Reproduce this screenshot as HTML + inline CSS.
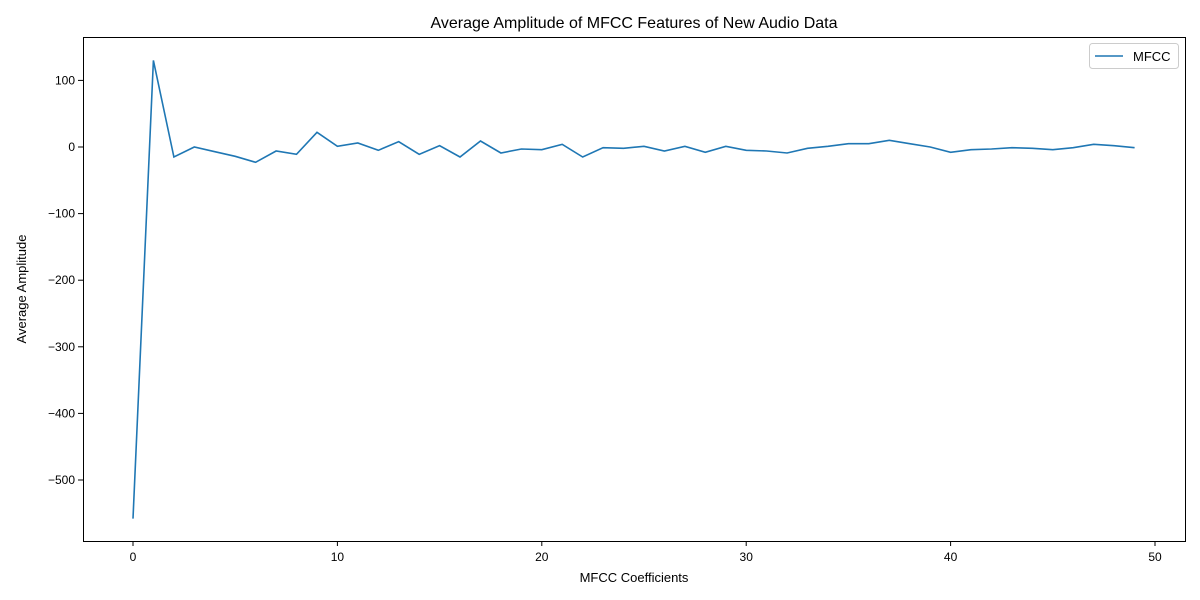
<!DOCTYPE html>
<html><head><meta charset="utf-8"><style>
html,body{margin:0;padding:0;background:#fff;}
svg{display:block;font-family:"Liberation Sans","DejaVu Sans",sans-serif;}
</style></head><body>
<svg id="chart" width="1200" height="600">
<rect x="0" y="0" width="1200" height="600" fill="#fff"/>
<text x="634" y="28" font-size="16" text-anchor="middle">Average Amplitude of MFCC Features of New Audio Data</text>
<text x="634" y="582" font-size="13" text-anchor="middle">MFCC Coefficients</text>
<text x="26" y="289" font-size="13" text-anchor="middle" transform="rotate(-90 26 289)">Average Amplitude</text>
<g id="ticks"></g>
<path id="line" fill="none" stroke="#1f77b4" stroke-width="1.6"/>
<rect x="83.5" y="37.5" width="1102" height="504" fill="none" stroke="#000" stroke-width="1"/>
<g>
<rect x="1089.5" y="43.5" width="89" height="25" rx="3" fill="#fff" stroke="#ccc"/>
<line x1="1095" y1="56" x2="1123" y2="56" stroke="#1f77b4" stroke-width="1.6"/>
<text x="1133" y="61" font-size="13">MFCC</text>
</g>
</svg>
<script>
const categories = Array.from({length:50},(_, i)=>i);
const values = [-558,130,-15,0,-7,-14,-23,-6,-11,22,1,6,-5,8,-11,2,-15,9,-9,-3,-4,4,-15,-1,-2,1,-6,1,-8,1,-5,-6,-9,-2,1,5,5,10,5,0,-8,-4,-3,-1,-2,-4,-1,4,2,-1];
const xTicks = [0,10,20,30,40,50];
const yTicks = [100,0,-100,-200,-300,-400,-500];
function xs(v){return 133+v*20.44;}
function ys(v){return 147-v*0.666;}
const ns="http://www.w3.org/2000/svg";
const g=document.getElementById('ticks');
xTicks.forEach(t=>{
  const l=document.createElementNS(ns,'line');
  l.setAttribute('x1',xs(t));l.setAttribute('x2',xs(t));l.setAttribute('y1',541);l.setAttribute('y2',546);l.setAttribute('stroke','#000');
  
  
  g.appendChild(l);
  const tx=document.createElementNS(ns,'text');
  tx.setAttribute('x',xs(t));tx.setAttribute('y',561);tx.setAttribute('font-size','12');tx.setAttribute('text-anchor','middle');
  tx.textContent=t;
  
  
  g.appendChild(tx);
});
yTicks.forEach(t=>{
  const l=document.createElementNS(ns,'line');
  l.setAttribute('x1',78);l.setAttribute('x2',83);l.setAttribute('y1',ys(t));l.setAttribute('y2',ys(t));l.setAttribute('stroke','#000');
  
  
  g.appendChild(l);
  const tx=document.createElementNS(ns,'text');
  tx.setAttribute('x',75);tx.setAttribute('y',ys(t)+4);tx.setAttribute('font-size','12');tx.setAttribute('text-anchor','end');
  tx.textContent=t<0?'\u2212'+(-t):t;
  
  
  g.appendChild(tx);
});
document.getElementById('line').setAttribute('d',values.map((v,i)=>(i?'L':'M')+xs(categories[i]).toFixed(1)+' '+ys(v).toFixed(1)).join(' '));
</script>
</body></html>
